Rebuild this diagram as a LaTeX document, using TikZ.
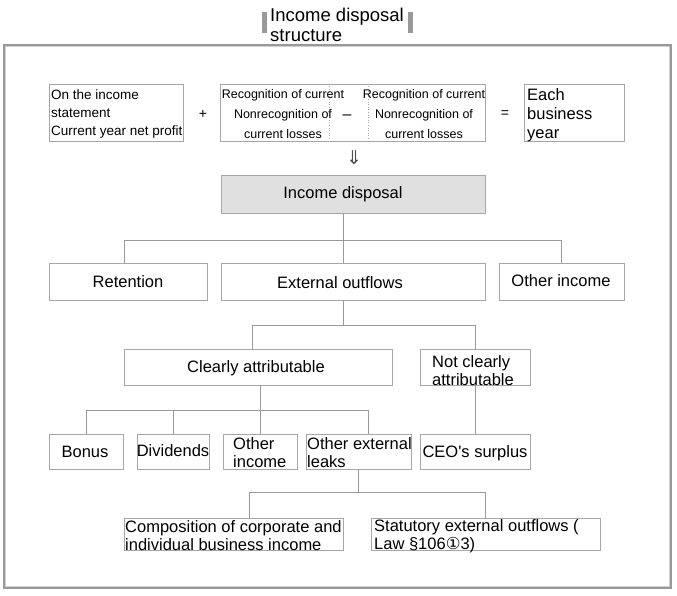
\documentclass[tikz,border=0pt]{standalone}
\usepackage{fontspec}
\setmainfont{Liberation Sans}
\newfontfamily\symfont{DejaVu Sans}
\definecolor{bd}{HTML}{A6A6A6}
\definecolor{ln}{HTML}{9A9A9A}
\definecolor{fr}{HTML}{999999}
\definecolor{frin}{HTML}{CFCFCF}
\definecolor{dispfill}{HTML}{E0E0E0}
\newcommand\fs[2]{\fontsize{#1}{#2}\selectfont}
\newcommand\bx[6][]{\node[box,#1,minimum width={#5-#3},minimum height={#6-#4}] (#2) at ({(#3+#5)/2},{(#4+#6)/2}) {};}
\begin{document}
\begin{tikzpicture}[x=1pt,y=-1pt,
  box/.style={draw=bd, line width=1pt, inner sep=0pt, outer sep=0pt},
  conn/.style={draw=ln, line width=0.9pt},
  txt/.style={inner sep=0pt, font=\fs{16.5}{18}},
  small/.style={inner sep=0pt, font=\fs{13.5}{18}},
  narrow/.style={inner sep=0pt, font=\fs{12.5}{20}, align=center}]
\useasboundingbox (0,0) rectangle (677,596);

% outer frame and title
\draw[fr, line width=1.3pt] (4,45) rectangle (671,588);
\draw[frin, line width=0.8pt] (5.8,46.8) rectangle (669.2,586.2);
\fill[fr] (262,12) rectangle (267,33);
\fill[fr] (408,12) rectangle (413,33);
\node[inner sep=0pt, anchor=west, align=left, font=\fs{18.5}{20}] (title) at (270,25) {Income disposal\\structure};

% top row
\bx{ba}{49}{85}{183}{142}
\node[small, anchor=west, align=left] (tba) at (51,114) {On the income\\statement\\Current year net profit};
\node[inner sep=0pt, font=\fs{14}{16}] (plus) at (203,114) {+};
\bx{bb}{220}{85}{485}{142}
\draw[bd, dotted, line width=0.6pt] (329,86) -- (329,141);
\draw[bd, dotted, line width=0.6pt] (368,86) -- (368,141);
\node[narrow] (tbl) at (283,114) {Recognition of current\\Nonrecognition of\\current losses};
\node[inner sep=0pt, font=\fs{16}{16}] (minus) at (347,117) {--};
\node[narrow] (tbr) at (424,114) {Recognition of current\\Nonrecognition of\\current losses};
\node[inner sep=0pt, font=\fs{14}{16}] (eq) at (505,114) {=};
\bx{bc}{524}{85}{624}{142}
\node[txt, anchor=west, align=left, font=\fs{16.5}{19}] (tbc) at (527,115) {Each\\business\\year};
\node[inner sep=0pt, font=\symfont\fs{19}{20}, text=black!70] (arr) at (354,158) {⇓};

% income disposal
\bx[fill=dispfill]{disp}{221}{176}{485}{214}
\node[txt] (tdisp) at (343,194) {Income disposal};

% row 2
\bx{ret}{49}{263}{207}{300}
\bx{ext}{221}{263}{485}{300}
\bx{oth}{499}{263}{624}{300}
\node[txt] (tret) at (128,282) {Retention};
\node[txt] (text) at (340,283) {External outflows};
\node[txt] (toth) at (561,281) {Other income};
\coordinate (j1) at (343,240);
\draw[conn] (disp.south) ++(-10,0) -- (j1);
\draw[conn] (j1) -- (j1 |- ext.north);
\draw[conn] (ret.north) ++(-4,0) |- (oth.north |- j1) -- (oth.north);

% row 3
\bx{clr}{124}{349}{392}{385}
\bx{ncl}{420}{349}{530}{385}
\node[txt] (tclr) at (256,368) {Clearly attributable};
\node[txt, anchor=west, align=left, font=\fs{16.5}{17.5}] (tncl) at (432,370.5) {Not clearly\\attributable};
\coordinate (j2) at (343,325);
\draw[conn] (ext.south) ++(-10,0) -- (j2);
\draw[conn] (clr.north) ++(-6,0) |- (ncl.north |- j2) -- (ncl.north);

% row 4
\bx{bon}{49}{434}{123}{469}
\bx{div}{137}{434}{209}{469}
\bx{oi}{223}{434}{297}{469}
\bx{oel}{306}{434}{411}{469}
\bx{ceo}{420}{434}{530}{469}
\node[txt] (tbon) at (85,452) {Bonus};
\node[txt] (tdiv) at (173,451) {Dividends};
\node[txt, anchor=west, align=left] (toi) at (233,453) {Other\\income};
\node[txt, anchor=west, align=left] (toel) at (307,452.5) {Other external\\leaks};
\node[txt] (tceo) at (475,453) {CEO\textquotesingle s surplus};
\coordinate (j3) at (260,410);
\coordinate (j3r) at (368,410);
\draw[conn] (j3 |- clr.south) -- (j3 |- oi.north);
\draw[conn] (bon.north) |- (j3r) -- (j3r |- oel.north);
\draw[conn] (div.north) -- (div.north |- j3);
\draw[conn] (ncl.south) -- (ceo.north);

% row 5
\bx{cmp}{124}{518}{343}{550}
\bx{sty}{371}{518}{600}{550}
\node[txt, anchor=west, align=left] (tcmp) at (125,536) {Composition of corporate and\\individual business income};
\node[txt, anchor=west, align=left] (tsty) at (374,536) {Statutory external outflows (\\Law §106{\symfont ①}3)};
\coordinate (j4) at (358,492);
\coordinate (j4l) at (249,492);
\draw[conn] (oel.south) -- (oel.south |- j4);
\draw[conn] (j4l |- cmp.north) -- (j4l) -| (sty.north);
\end{tikzpicture}
\end{document}
